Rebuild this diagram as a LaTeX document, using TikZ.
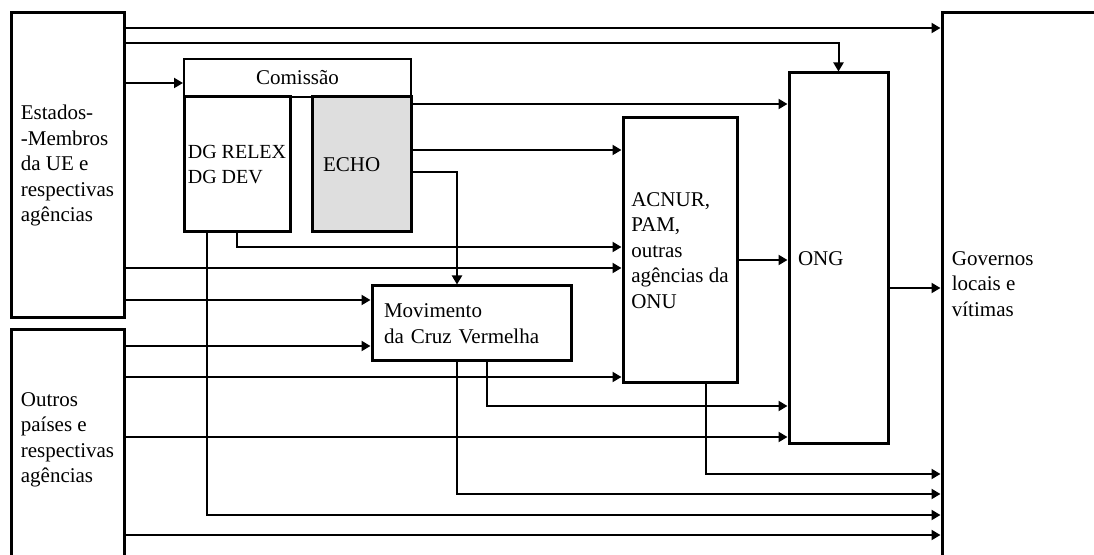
\documentclass[tikz,border=0pt]{standalone}
\usepackage{fontspec}
\setmainfont{Liberation Serif}
\usepackage{tikz}
\usetikzlibrary{positioning,arrows.meta}
\definecolor{ECHOgray}{HTML}{DEDEDE}

\begin{document}
\begin{tikzpicture}[x=0.5pt, y=-0.5pt,
            font=\fontsize{10.5}{12.75}\selectfont,
            b/.style={rectangle, draw, line width=1.5pt, inner sep=0pt, align=left},
            t/.style={inner sep=0pt, align=left},
            a/.style={line width=1pt, -{Triangle[length=4.5pt, width=5pt]}},
            l/.style={line width=1pt}]
        \clip (0,0) rectangle (1094,555);
        % boxes
        \node[b, minimum width=56.5pt, minimum height=152.5pt] (estados) at (67.5,165.5)
              {Estados-\\-Membros\\da UE e\\respectivas\\agências};
        \node[b, minimum width=56.5pt, minimum height=120pt] (outros) at (67.5,450) {};
        \node[t] (outrostxt) at (67.5,440) {Outros\\países e\\respectivas\\agências};
        \node[b, minimum width=88pt, minimum height=287pt] (gov) at (1030,300) {};
        \node[t, anchor=west] (govtxt) at ([xshift=5.5pt]gov.west |- 0,284) {Governos\\locais e\\vítimas};
        \node[b, line width=1pt, minimum width=113.5pt, minimum height=19pt, align=center] (comissao) at (297.5,78) {Comissão};
        \node[b, minimum width=53pt, minimum height=67.5pt, font=\fontsize{10}{12.75}\selectfont] (dg) at (237,164.5) {DG RELEX\\DG DEV};
        \node[b, fill=ECHOgray, minimum width=49.5pt, minimum height=67.5pt, text width=38.5pt] (echo) at (361.5,164.5) {ECHO};
        \node[b, minimum width=57pt, minimum height=132.5pt] (acnur) at (680,250.5)
              {ACNUR,\\PAM,\\outras\\agências da\\ONU};
        \node[b, minimum width=99.5pt, minimum height=37.5pt, text width=87.5pt] (mov) at (471.5,323.5)
              {Movimento\\da Cruz Vermelha};
        \node[b, minimum width=49.5pt, minimum height=185.5pt, text width=40.5pt] (ong) at (838.5,258.5) {ONG};
        % connectors
        \draw[a] (estados.east |- 0,28) -- (gov.west |- 0,28);
        \draw[a] (estados.east |- 0,43) -| (ong.north);
        \draw[a] (estados.east |- 0,83) -- (comissao.west |- 0,83);
        \draw[a] (estados.east |- 0,268) -- (acnur.west |- 0,268);
        \draw[a] (estados.east |- 0,300) -- (mov.west |- 0,300);
        \draw[a] (outros.east |- 0,346) -- (mov.west |- 0,346);
        \draw[a] (outros.east |- 0,377) -- (acnur.west |- 0,377);
        \draw[a] (outros.east |- 0,437) -- (ong.west |- 0,437);
        \draw[a] (outros.east |- 0,535) -- (gov.west |- 0,535);
        \draw[a] (echo.east |- 0,104) -- (ong.west |- 0,104);
        \draw[a] (echo.east |- 0,150) -- (acnur.west |- 0,150);
        \draw[a] (echo.east |- 0,172) -| (457,0 |- mov.north);
        \draw[a] (dg.south) |- (acnur.west |- 0,247);
        \draw[a] (207,0 |- dg.south) |- (gov.west |- 0,515);
        \draw[a] (457,0 |- mov.south) |- (gov.west |- 0,494);
        \draw[a] (487,0 |- mov.south) |- (ong.west |- 0,406);
        \draw[a] (706,0 |- acnur.south) |- (gov.west |- 0,474);
        \draw[a] (acnur.east |- 0,260) -- (ong.west |- 0,260);
        \draw[a] (ong.east |- 0,288) -- (gov.west |- 0,288);
      \end{tikzpicture}
\end{document}
